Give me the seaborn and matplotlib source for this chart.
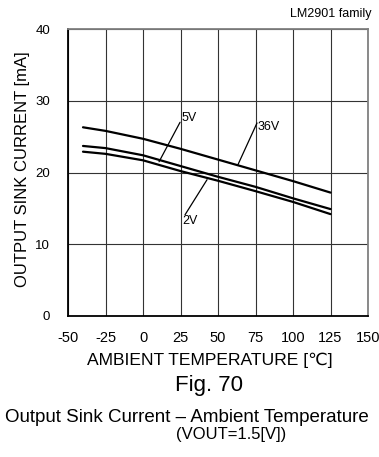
import numpy as np
import pandas as pd
import matplotlib
matplotlib.use('Agg')
import matplotlib.pyplot as plt
import seaborn as sns

# Veriler
sicaklik = [-40, -25, 0, 25, 50, 75, 100, 125]
akim_36v = [26.3, 25.8, 24.7, 23.3, 21.8, 20.3, 18.8, 17.2]
akim_5v = [23.7, 23.4, 22.4, 20.9, 19.4, 18.0, 16.4, 14.9]
akim_2v = [22.9, 22.6, 21.7, 20.2, 18.85, 17.4, 15.9, 14.2]
x_ticks = [-50, -25, 0, 25, 50, 75, 100, 125, 150]
y_ticks = [0, 10, 20, 30, 40]

df = pd.DataFrame({
    'T': sicaklik * 3,
    'I': akim_36v + akim_5v + akim_2v,
    'V': ['36V'] * 8 + ['5V'] * 8 + ['2V'] * 8,
})

sns.set_style('white')
plt.rcParams['font.family'] = ['Liberation Sans', 'DejaVu Sans']
plt.rcParams['axes.unicode_minus'] = False
for k in ['text.color', 'axes.labelcolor', 'xtick.color', 'ytick.color']:
    plt.rcParams[k] = 'black'

fig = plt.figure(figsize=(3.79, 4.57), dpi=100)
ax = fig.add_axes([68 / 379, 141 / 457, 300 / 379, 287 / 457])

sns.lineplot(data=df, x='T', y='I', units='V', estimator=None,
             color='black', linewidth=1.6, ax=ax, legend=False)

ax.set_xlim(-50, 150)
ax.set_ylim(0, 40)
ax.set_xticks(x_ticks)
ax.set_yticks(y_ticks)
ax.tick_params(axis='x', length=0, labelsize=10.5, pad=11)
ax.tick_params(axis='y', length=0, labelsize=9.5, pad=13)
for lbl in ax.get_xticklabels():
    lbl.set_clip_on(False)
ax.grid(True, color='#333333', linewidth=0.8)

for s in ['left', 'bottom']:
    ax.spines[s].set_color('black')
    ax.spines[s].set_linewidth(1.3)
for s in ['top', 'right']:
    ax.spines[s].set_color('#808080')
    ax.spines[s].set_linewidth(1.3)

ax.set_xlabel('AMBIENT TEMPERATURE [℃]', fontsize=12.6)
ax.xaxis.set_label_coords(0.473, -0.153)
ax.xaxis.label.set_va('center')
ax.set_ylabel('OUTPUT SINK CURRENT [mA]', fontsize=12)
ax.yaxis.set_label_coords(-0.153, 0.512)
ax.yaxis.label.set_va('center')

# Egri etiketleri
ax.plot([24.7, 10.7], [27.0, 21.5], color='black', linewidth=0.9)
ax.text(26.0, 27.6, '5V', fontsize=9, va='center', ha='left')
ax.plot([76.0, 63.1], [26.9, 21.0], color='black', linewidth=0.9)
ax.text(76.5, 26.4, '36V', fontsize=9, va='center', ha='left')
ax.plot([28.0, 42.7], [14.1, 19.0], color='black', linewidth=0.9)
ax.text(26.5, 13.3, '2V', fontsize=9, va='center', ha='left')

fig.text(372 / 379, 1 - 14 / 457, 'LM2901 family', fontsize=9, ha='right', va='center')
fig.text(209 / 379, 1 - 386 / 457, 'Fig. 70', fontsize=16, ha='center', va='center')
fig.text(5 / 379, 1 - 418 / 457, 'Output Sink Current – Ambient Temperature', fontsize=13.5,
         ha='left', va='center')
fig.text(231 / 379, 1 - 435 / 457, '(VOUT=1.5[V])', fontsize=12, ha='center', va='center')

fig.savefig('out.png', dpi=100)
plt.close(fig)
